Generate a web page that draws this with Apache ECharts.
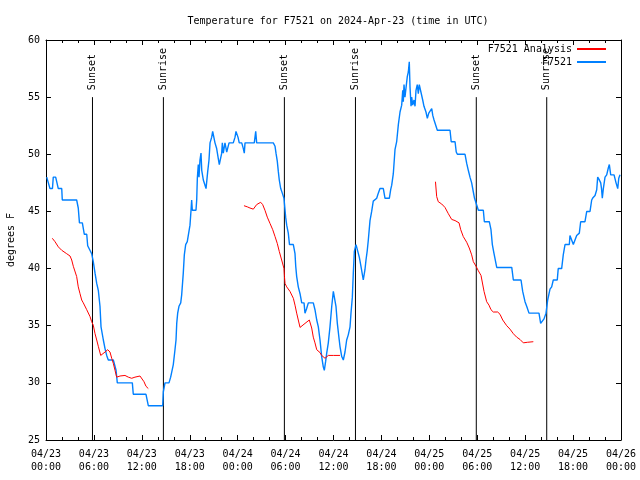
<!DOCTYPE html>
<html><head><meta charset="utf-8">
<script src="https://cdn.jsdelivr.net/npm/echarts@6/dist/echarts.min.js"></script>
<style>html,body{margin:0;padding:0;background:#fff}#c{width:640px;height:480px}</style>
</head><body><div id="c"></div>
<script>
// hours since 2024-04-23 00:00 UTC
const xTickLabels = ['04/23\n00:00','04/23\n06:00','04/23\n12:00','04/23\n18:00','04/24\n00:00','04/24\n06:00','04/24\n12:00','04/24\n18:00','04/25\n00:00','04/25\n06:00','04/25\n12:00','04/25\n18:00','04/26\n00:00'];
const obsHours = [0.09,0.5,0.81,0.91,1.21,1.54,1.97,2.04,3.84,4.04,4.13,4.19,4.55,4.8,5.1,5.22,5.45,5.72,5.92,6.14,6.35,6.55,6.76,6.89,7.18,7.39,7.6,7.8,8.43,8.77,8.93,10.81,10.93,12.52,12.81,14.61,14.69,14.9,15.4,15.61,15.94,16.15,16.28,16.37,16.49,16.65,16.87,16.99,17.19,17.32,17.49,17.69,18.03,18.16,18.24,18.32,18.78,18.87,18.95,19.07,19.16,19.28,19.41,19.5,19.7,20.04,20.25,20.41,20.54,20.75,20.87,21.16,21.37,21.58,21.7,22.0,22.08,22.2,22.41,22.63,22.92,23.04,23.45,23.67,23.79,23.95,24.04,24.2,24.51,24.71,24.83,24.92,26.08,26.26,26.38,28.46,28.68,28.8,28.96,29.09,29.21,29.39,29.59,29.8,30.01,30.14,30.34,30.49,30.97,31.18,31.27,31.39,31.59,31.81,32.02,32.31,32.43,32.64,32.85,33.47,33.68,33.9,34.1,34.31,34.52,34.72,34.85,35.02,35.15,35.35,35.56,35.78,35.98,36.19,36.31,36.48,36.69,36.81,37.03,37.23,37.44,37.65,37.85,38.07,38.19,38.36,38.48,38.61,38.82,39.01,39.23,39.44,39.73,39.94,40.07,40.23,40.36,40.57,40.78,40.98,41.41,41.61,41.82,42.24,42.45,42.99,43.16,43.29,43.49,43.61,43.7,43.91,44.12,44.33,44.54,44.67,44.74,44.83,44.95,45.24,45.37,45.49,45.58,45.71,45.79,45.92,46.08,46.21,46.33,46.49,46.62,46.74,46.92,47.17,47.33,47.58,47.75,47.93,48.3,48.43,48.59,48.84,49.0,50.59,50.74,51.22,51.37,51.51,52.47,52.68,52.88,53.09,53.3,53.51,53.66,53.85,54.14,54.76,54.89,55.51,55.72,55.89,56.1,56.44,58.32,58.52,59.48,59.69,59.98,60.19,60.48,61.73,61.94,62.19,62.36,62.61,62.82,63.11,63.32,63.52,64.02,64.14,64.57,64.77,64.99,65.53,65.61,65.82,66.03,66.24,66.45,66.78,66.95,67.49,67.71,68.12,68.33,68.49,68.75,68.96,69.08,69.25,69.46,69.56,69.66,69.79,70.0,70.21,70.41,70.54,70.71,71.13,71.38,71.59,71.72,71.88];
const obsTemps = [48,47,47,48,48,47,47,46,46,45.3,44.5,44,44,43,43,42,42,41.3,40.6,39.6,38.7,38.1,36.7,34.9,33.75,33,32.4,32,32,31.1,30,30,29,29,28,28,29.2,30,30,30.5,31.6,32.9,33.75,35.2,36.1,36.7,37,37.7,39.6,41.2,42.1,42.35,43.8,45.1,46,45.1,45.1,46,47.9,49.1,48,49.5,50.1,48.6,47.75,47,48.5,49.5,51,51.5,52,51,50.5,49.6,49.1,50.1,51,50.1,51,50.2,51,51,51,51.5,52,52,51.5,51,51,50.5,50.1,51,51,52,51,51,50.7,50.1,49.4,48.5,47.75,47,46.6,46.15,44.5,43.8,43.1,42.1,42.1,41.3,40.2,39.3,38.4,37.8,37,37,36.1,36.5,37,37,36.4,35.5,34.9,33.75,32.3,31.4,31.1,31.9,32.6,33.5,34.9,36.7,38,38,36.7,35.2,33.9,33.2,32.3,32,32.7,33.75,34.2,34.9,36.1,37.5,39.6,41.5,42.1,42,41,40.2,39,39.9,40.75,41.6,42.5,44.2,45,45.9,46.15,46.6,47,47,46.15,46.15,46.9,47.3,48.3,49.5,50.4,51.1,52.6,53.7,54.3,55.6,54.6,56.1,55,56.8,57.2,58.1,55.9,54.2,55,54.3,54.75,54.2,55.6,56.1,55.3,56.1,56,54.75,54.2,53.7,53.15,53.6,54,53.4,53,53,52.1,52.1,51.1,51.1,50.2,50,50,49.2,48.6,48,47.5,46.7,46.15,46,45.1,45.1,44.1,44.1,43.4,42.1,41.3,40.1,40.1,39,39,38,37.1,36.7,36.1,36.1,35.2,35.2,35.6,36.1,37.25,38.2,38.4,39,39,40,40,41.2,42.1,42.1,42.9,42.5,42.1,42.5,42.9,43.1,44.1,44.1,45,45,46,46.2,46.4,46.9,48,47.8,47.5,47,46.15,47,48,48.2,48.8,49.1,48.2,48.2,47.5,47,47.9,48.2];
const anaHours = [0.79,1.13,1.54,1.97,2.59,3.01,3.22,3.42,3.84,4.04,4.26,4.47,4.67,5.1,5.51,5.72,5.92,6.14,6.35,6.55,6.85,7.39,7.73,8.01,8.23,8.43,8.64,8.85,9.27,9.89,10.31,10.73,11.14,11.77,12.02,12.27,12.52,12.81,18.0,
 24.79,25.21,25.54,25.96,26.38,26.88,27.13,27.42,27.71,28.05,28.39,28.68,28.96,29.21,29.51,29.8,29.86,29.93,30.14,30.55,30.97,31.18,31.39,31.59,31.81,32.43,32.97,33.27,33.47,33.68,33.9,34.31,34.52,34.94,35.35,35.98,36.81,42.0,
 48.77,48.92,49.12,49.55,49.96,50.38,50.8,51.22,51.72,51.93,52.25,52.68,53.0,53.3,53.51,53.85,54.14,54.47,54.68,54.85,55.18,55.47,55.72,56.01,56.56,56.85,57.19,57.69,58.1,58.52,58.94,59.35,59.77,60.27,61.02];
const anaTemps = [42.65,42.35,41.9,41.6,41.3,41.1,40.75,40.2,39.3,38.4,37.8,37.25,37,36.4,35.8,35.35,35.05,34.3,33.75,33.2,32.4,32.7,32.9,32.7,32.15,31.7,31.1,30.5,30.6,30.65,30.5,30.4,30.5,30.6,30.5,30.1,29.7,29.5,null,
 45.5,45.4,45.3,45.2,45.6,45.8,45.6,45.1,44.5,43.95,43.4,42.8,42.2,41.5,40.75,40,39.3,38.7,38.4,38,37.4,36.8,36.1,35.5,34.85,35.2,35.5,34.8,34,33.5,32.9,32.65,32.4,32.15,32.4,32.4,32.4,null,
 47.6,46.3,45.85,45.65,45.35,44.8,44.3,44.2,44,43.4,42.8,42.3,41.8,41.2,40.6,40.2,39.8,39.4,39.3,38,37.1,36.8,36.4,36.2,36.2,36,35.5,35,34.7,34.3,34,33.8,33.5,33.55,33.6];
const sunsetHours = [5.82, 29.85, 53.88];
const sunriseHours = [14.7, 38.75, 62.7];
const eventBottom = 25, eventTop = 55;

const FONT = 'DejaVu Sans Mono';
const pair = (xs, ys) => xs.map((x, i) => [x, ys[i]]);
function eventSeries(hours, text) {
  return hours.map(h => ({
    type: 'line', xAxisIndex: 0, yAxisIndex: 0, silent: true, animation: false,
    symbol: 'circle', symbolSize: 0.01, showSymbol: true, showAllSymbol: true,
    itemStyle: { color: 'transparent', borderWidth: 0 },
    lineStyle: { color: '#000', width: 1 }, z: 1,
    data: [
      { value: [h, eventBottom] },
      { value: [h, eventTop], label: { show: true, formatter: text, position: 'top', distance: 7, rotate: 90, align: 'left', verticalAlign: 'middle', color: '#000', fontFamily: FONT, fontSize: 10 } }
    ]
  }));
}
const chart = echarts.init(document.getElementById('c'), null, { renderer: 'canvas' });
const axisCommon = {
  axisLine: { show: true, onZero: false, lineStyle: { color: '#000', width: 1 } },
  axisTick: { show: true, inside: true, length: 5, lineStyle: { color: '#000' } },
  splitLine: { show: false },
};
chart.setOption({
  animation: false,
  backgroundColor: '#fff',
  title: { text: 'Temperature for F7521 on 2024-Apr-23 (time in UTC)', left: 333, top: 11, textAlign: 'center',
    textStyle: { fontFamily: FONT, fontSize: 10, fontWeight: 'normal', color: '#000' } },
  legend: { data: ['F7521 Analysis', 'F7521'], orient: 'vertical', align: 'right', right: 29, top: 38,
    itemWidth: 29, itemHeight: 2, itemGap: 1, icon: 'rect',
    textStyle: { fontFamily: FONT, fontSize: 10, color: '#000', lineHeight: 12, padding: [0, 0, 0, 0] } },
  grid: { left: 46, right: 19, top: 40, bottom: 40, containLabel: false, outerBoundsMode: 'none' },
  xAxis: [
    Object.assign({ type: 'value', position: 'bottom', min: 0, max: 72, interval: 6,
      minorTick: { show: true, splitNumber: 3, length: 3, lineStyle: { color: '#000' } },
      axisLabel: { margin: 8, fontFamily: FONT, fontSize: 10, color: '#000', lineHeight: 13,
        formatter: v => xTickLabels[Math.round(v / 6)] } }, axisCommon),
    Object.assign({ type: 'value', position: 'top', min: 0, max: 72, interval: 6,
      minorTick: { show: true, splitNumber: 3, length: 3, lineStyle: { color: '#000' } },
      axisLabel: { show: false } }, axisCommon)
  ],
  yAxis: [
    Object.assign({ type: 'value', position: 'left', min: 25, max: 60, interval: 5,
      name: 'degrees F', nameLocation: 'middle', nameGap: 30, nameRotate: 90,
      nameTextStyle: { fontFamily: FONT, fontSize: 10, color: '#000' },
      axisLabel: { margin: 6, fontFamily: FONT, fontSize: 10, color: '#000' } }, axisCommon),
    Object.assign({ type: 'value', position: 'right', min: 25, max: 60, interval: 5,
      axisLabel: { show: false } }, axisCommon)
  ],
  series: [
    ...eventSeries(sunsetHours, 'Sunset'),
    ...eventSeries(sunriseHours, 'Sunrise'),
    { name: 'F7521 Analysis', type: 'line', symbol: 'none', connectNulls: false, z: 3,
      lineStyle: { color: '#ff0000', width: 1 }, itemStyle: { color: '#ff0000' },
      data: pair(anaHours, anaTemps) },
    { name: 'F7521', type: 'line', symbol: 'none', z: 2,
      lineStyle: { color: '#0080ff', width: 1.4 }, itemStyle: { color: '#0080ff' },
      data: pair(obsHours, obsTemps) }
  ]
});
</script></body></html>
